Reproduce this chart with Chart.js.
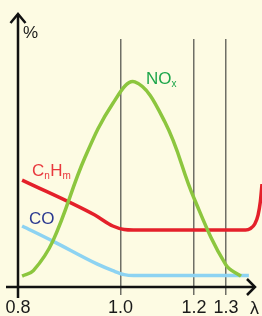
<!DOCTYPE html>
<html>
<head>
<meta charset="utf-8">
<script src="https://cdn.jsdelivr.net/npm/chart.js@4.4.1/dist/chart.umd.min.js"></script>
<style>
    html, body { margin: 0; padding: 0; background: #fdfbe3; }
    canvas { display: block; }
</style>
</head>
<body>
<canvas id="grafico" width="262" height="316"></canvas>
<script>
// ============================================
// DADOS (lambda x %)
// ============================================

const ticksLambda = [0.8, 1.0, 1.2, 1.3];

const noxLambda = [0.808, 0.830, 0.868, 0.931, 0.985, 1.039, 1.121, 1.200, 1.300, 1.346];
const noxValores = [4.4, 6.6, 18.5, 52.4, 74.0, 82.7, 66.5, 35.9, 8.9, 4.4];

const hcLambda = [0.808, 0.950, 0.985, 1.010, 1.035, 1.360, 1.375, 1.388, 1.398, 1.405, 1.410];
const hcValores = [43.1, 29.0, 24.6, 23.2, 23.0, 23.0, 23.6, 25.4, 29.0, 34.5, 41.5];

const coLambda = [0.808, 0.868, 0.955, 0.985, 1.010, 1.035, 1.370];
const coValores = [24.6, 18.5, 9.2, 6.6, 5.0, 4.6, 4.6];

// ============================================
// ESCALA DE LAMBDA (não linear, como no original)
// ============================================

const nosX = [0.8, 1.0, 1.2, 1.3, 1.41];
const fracoesX = [0, 0.42, 0.721, 0.852, 1];

class EscalaLambda extends Chart.LinearScale {
    fracaoDe(valor) {
        for (let i = 1; i < nosX.length; i++) {
            if (valor <= nosX[i] || i === nosX.length - 1) {
                const t = (valor - nosX[i - 1]) / (nosX[i] - nosX[i - 1]);
                return fracoesX[i - 1] + t * (fracoesX[i] - fracoesX[i - 1]);
            }
        }
    }
    getPixelForValue(valor) {
        if (valor === null || valor === undefined) return NaN;
        return this.getPixelForDecimal(this.fracaoDe(valor));
    }
    getValueForPixel(pixel) {
        const f = this.getDecimalForPixel(pixel);
        for (let i = 1; i < fracoesX.length; i++) {
            if (f <= fracoesX[i] || i === fracoesX.length - 1) {
                const t = (f - fracoesX[i - 1]) / (fracoesX[i] - fracoesX[i - 1]);
                return nosX[i - 1] + t * (nosX[i] - nosX[i - 1]);
            }
        }
    }
}
EscalaLambda.id = 'lambda';
EscalaLambda.defaults = Chart.LinearScale.defaults;
Chart.register(EscalaLambda);

// Montar pontos
function pontos(xs, ys) {
    return xs.map((x, i) => ({ x: x, y: ys[i] }));
}

const fonte = "'Liberation Sans Narrow', 'Liberation Sans', Arial, sans-serif";

// Texto com índice (NOx, CnHm)
function textoComIndice(ctx, partes, x, y, cor) {
    ctx.fillStyle = cor;
    ctx.textBaseline = 'alphabetic';
    ctx.textAlign = 'left';
    partes.forEach(p => {
        ctx.font = p.sub ? '10px ' + fonte : '17px ' + fonte;
        ctx.fillText(p.t, x, p.sub ? y + 3 : y);
        x += ctx.measureText(p.t).width + (p.sub ? 0.5 : 0);
    });
}

// Eixos com setas e rótulos
const eixosPlugin = {
    id: 'eixos',
    beforeDraw(chart) {
        const ctx = chart.ctx;
        ctx.save();
        ctx.fillStyle = '#fdfbe3';
        ctx.fillRect(0, 0, chart.width, chart.height);
        ctx.restore();
    },
    afterDraw(chart) {
        const ctx = chart.ctx;
        const { left, bottom } = chart.chartArea;
        ctx.save();
        ctx.strokeStyle = '#111111';
        ctx.lineWidth = 2.5;

        // eixo y
        ctx.beginPath();
        ctx.moveTo(left, bottom + 11);
        ctx.lineTo(left, 14);
        ctx.stroke();
        ctx.beginPath();
        ctx.moveTo(left - 7.5, 23);
        ctx.lineTo(left, 14);
        ctx.lineTo(left + 7.5, 23);
        ctx.stroke();

        // eixo x
        ctx.beginPath();
        ctx.moveTo(6, bottom);
        ctx.lineTo(255, bottom);
        ctx.stroke();
        ctx.beginPath();
        ctx.moveTo(247, bottom - 8);
        ctx.lineTo(255, bottom);
        ctx.lineTo(247, bottom + 8);
        ctx.stroke();

        // rótulos
        ctx.fillStyle = '#1a1a1a';
        ctx.font = '17px ' + fonte;
        ctx.fillText('%', 23, 38);
        ctx.font = '18px ' + fonte;
        ctx.fillText('λ', 250, 314);

        textoComIndice(ctx, [{ t: 'NO' }, { t: 'x', sub: true }], 146, 84, '#1ea64b');
        textoComIndice(ctx, [{ t: 'C' }, { t: 'n', sub: true }, { t: 'H' }, { t: 'm', sub: true }], 32, 176, '#e8383d');
        textoComIndice(ctx, [{ t: 'CO' }], 29, 224, '#2b3990');
        ctx.restore();
    }
};

const ctx = document.getElementById('grafico').getContext('2d');

new Chart(ctx, {
    type: 'line',
    data: {
        datasets: [
            {
                label: 'NOx',
                data: pontos(noxLambda, noxValores),
                borderColor: '#8cc63e',
                borderWidth: 3.5,
                cubicInterpolationMode: 'default',
                tension: 0.4
            },
            {
                label: 'CnHm',
                data: pontos(hcLambda, hcValores),
                borderColor: '#e4202a',
                borderWidth: 3.5,
                cubicInterpolationMode: 'monotone'
            },
            {
                label: 'CO',
                data: pontos(coLambda, coValores),
                borderColor: '#8dd3f2',
                borderWidth: 3.5,
                cubicInterpolationMode: 'monotone'
            }
        ]
    },
    options: {
        responsive: false,
        animation: false,
        devicePixelRatio: 1,
        layout: {
            padding: { left: 18, top: 39, right: 0, bottom: 0 }
        },
        elements: {
            point: { radius: 0 },
            line: { fill: false }
        },
        plugins: {
            legend: { display: false },
            tooltip: { enabled: false }
        },
        scales: {
            x: {
                type: 'lambda',
                min: 0.8,
                max: 1.41,
                afterBuildTicks: function (escala) {
                    escala.ticks = ticksLambda.map(v => ({ value: v }));
                },
                afterFit: function (escala) {
                    escala.height = 29;
                    escala.paddingLeft = 0;
                    escala.paddingRight = 0;
                },
                border: { display: false },
                grid: {
                    color: function (c) {
                        return c.tick && c.tick.value === 0.8 ? 'rgba(0,0,0,0)' : '#6f6f66';
                    },
                    lineWidth: 1.5,
                    tickLength: 8
                },
                ticks: {
                    autoSkip: false,
                    maxRotation: 0,
                    padding: 2,
                    color: '#1a1a1a',
                    font: { family: fonte, size: 18 },
                    callback: function (valor) {
                        return Number(valor).toFixed(1);
                    }
                }
            },
            y: {
                display: false,
                min: 0,
                max: 100
            }
        }
    },
    plugins: [eixosPlugin]
});
</script>
</body>
</html>
